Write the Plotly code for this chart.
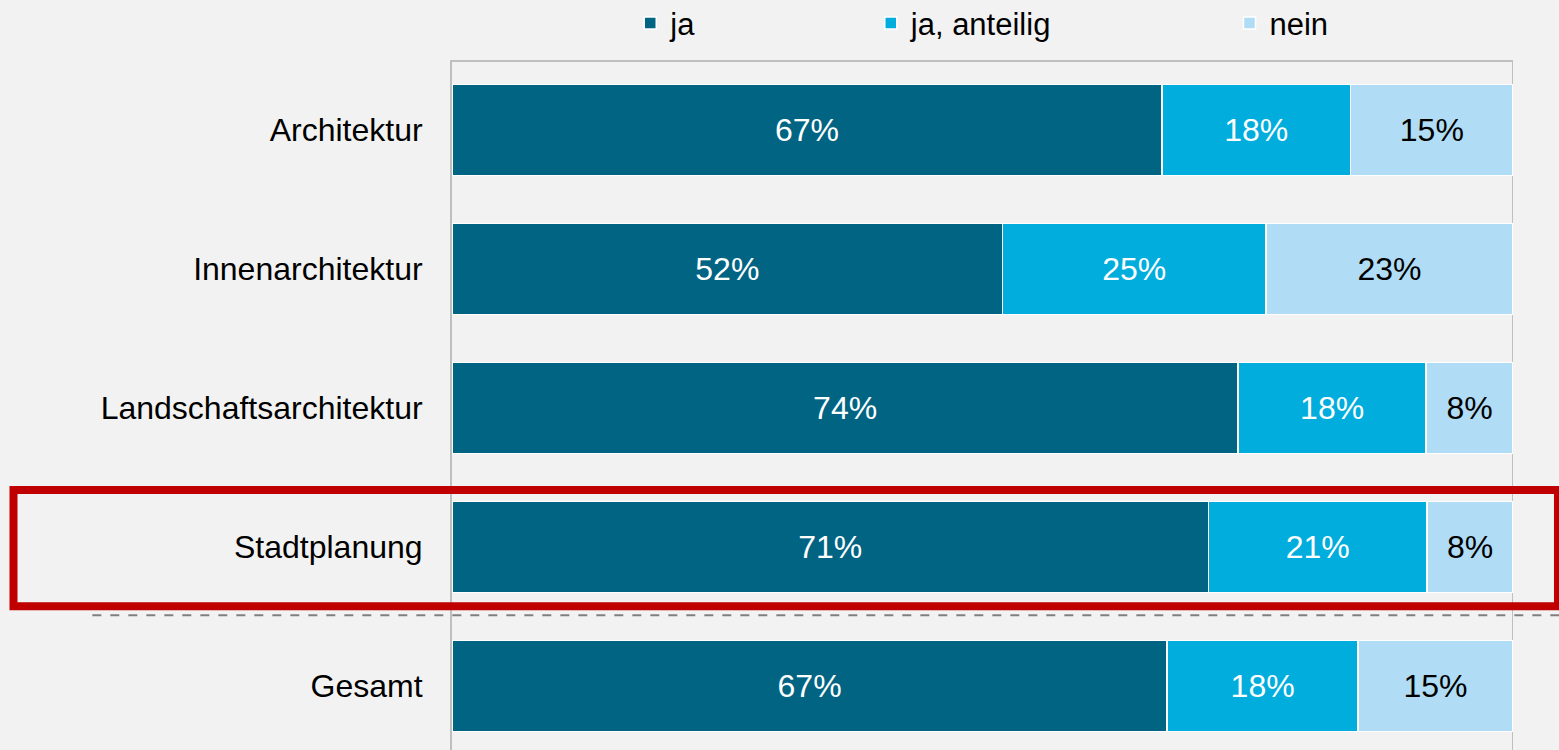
import plotly.graph_objects as go

# Data (shares in percent)
categories = ['Architektur', 'Innenarchitektur', 'Landschaftsarchitektur', 'Stadtplanung', 'Gesamt']
ja = [66.9, 51.9, 74.1, 71.3, 67.4]
ja_anteilig = [17.8, 24.8, 17.7, 20.6, 18.0]
nein = [15.3, 23.3, 8.2, 8.1, 14.6]
series_names = ['ja', 'ja, anteilig', 'nein']
highlight = 'Stadtplanung'

colors = ['#006482', '#00ADDC', '#B0DDF5']
text_colors = ['white', 'white', 'black']
legend_ids = ['legend', 'legend2', 'legend3']
legend_x = [0.168, 0.3947, 0.7328]

FONT = 'Liberation Sans, Arial, sans-serif'
BG = '#F2F2F2'
GRID = '#BFBFBF'

fig = go.Figure()

for name, values, color, tcolor, lid in zip(series_names, [ja, ja_anteilig, nein],
                                             colors, text_colors, legend_ids):
    fig.add_trace(go.Bar(
        y=categories,
        x=values,
        name=name,
        orientation='h',
        marker=dict(color=color, line=dict(color='white', width=1.5)),
        text=[f'{v:.0f}%' for v in values],
        textposition='inside',
        insidetextanchor='middle',
        textfont=dict(family=FONT, size=32, color=tcolor),
        legend=lid,
        hovertemplate='<b>%{y}</b><br>' + name + ': %{x:.0f}%<extra></extra>'
    ))

# right frame line (drawn under the bars)
fig.add_shape(type='line', xref='x', yref='paper', x0=100, x1=100, y0=0, y1=1,
              line=dict(color=GRID, width=2), layer='below')

# Highlight box and dashed separator around the "Stadtplanung" row
idx = categories.index(highlight)
fig.add_shape(type='rect', xref='paper', yref='y',
              x0=-0.4133, x1=1.0424, y0=idx - 0.41, y1=idx + 0.425,
              line=dict(color='#C00000', width=8), fillcolor='rgba(0,0,0,0)', layer='above')
fig.add_shape(type='line', xref='paper', yref='y',
              x0=-0.339, x1=1.05, y0=idx + 0.49, y1=idx + 0.49,
              line=dict(color='#808080', width=2, dash='dash'), layer='above')

legend_common = dict(orientation='h', yref='paper', y=1.056, yanchor='middle',
                     xanchor='left', bgcolor='rgba(0,0,0,0)',
                     font=dict(family=FONT, size=31, color='black'))

fig.update_layout(
    barmode='stack',
    bargap=0.345,
    width=1559,
    height=750,
    paper_bgcolor=BG,
    plot_bgcolor=BG,
    margin=dict(l=452, r=46, t=62, b=0, autoexpand=False),
    font=dict(family=FONT, size=32, color='black'),
    legend=dict(x=legend_x[0], **legend_common),
    legend2=dict(x=legend_x[1], **legend_common),
    legend3=dict(x=legend_x[2], **legend_common),
    xaxis=dict(range=[0, 100], tickvals=[0, 100], showticklabels=False,
               showgrid=True, gridcolor=GRID, gridwidth=2, zeroline=False,
               side='top', showline=True, linecolor=GRID, linewidth=2),
    yaxis=dict(range=[4.46, -0.49], showline=True, linecolor=GRID, linewidth=2,
               showgrid=False, ticks='', ticklabelstandoff=21,
               tickfont=dict(family=FONT, size=32, color='black')),
    showlegend=True
)

# drop the default page margin so the figure sits at the window's corner
fig.write_html('out.html', config={'displayModeBar': False},
               post_script="document.body.style.margin='0';")
